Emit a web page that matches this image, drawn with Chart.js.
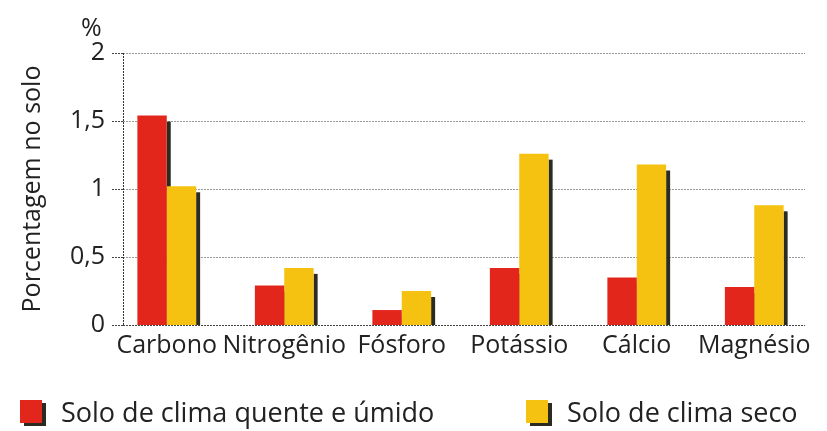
<!DOCTYPE html>
<html lang="pt-BR">
<head>
<meta charset="utf-8">
<title>Porcentagem no solo</title>
<script src="https://cdn.jsdelivr.net/npm/chart.js@4.4.1/dist/chart.umd.min.js"></script>
<style>
  html, body { margin: 0; padding: 0; background: #fff; }
  #wrap { position: relative; width: 827px; height: 431px; font-family: "Open Sans", sans-serif; color: #222; }
  #chart { position: absolute; left: 0; top: 0; }
  .unit { position: absolute; left: 81px; top: 9px; font-size: 25px; }
  .legend { position: absolute; top: 392px; height: 38px; display: flex; align-items: center; font-size: 27px; }
  .legend .box { width: 22px; height: 23px; margin-right: 19px; box-shadow: 4px 3px 0 #2b2b22; }
</style>
</head>
<body>
<div id="wrap">
  <canvas id="chart" width="827" height="431"></canvas>
  <div class="unit">%</div>
  <div class="legend" style="left:20px;"><span class="box" style="background:#e2261c;"></span>Solo de clima quente e úmido</div>
  <div class="legend" style="left:526px;"><span class="box" style="background:#f6c211;"></span>Solo de clima seco</div>
</div>
<script>
// ── Data ─────────────────────────────────────────────────────
const nutrientes = ['Carbono', 'Nitrogênio', 'Fósforo', 'Potássio', 'Cálcio', 'Magnésio'];
const quenteUmido = [1.54, 0.29, 0.11, 0.42, 0.35, 0.28];
const climaSeco   = [1.02, 0.42, 0.25, 1.26, 1.18, 0.88];
const yTicks      = [0, 0.5, 1, 1.5, 2];

const AXIS_X = 123;   // where the vertical axis line sits
const GRID_END = 805;

// ── Axis, grid and bar shadows ───────────────────────────────
const axisAndShadows = {
  id: 'axisAndShadows',
  beforeDatasetsDraw(chart) {
    const ctx = chart.ctx;
    const y = chart.scales.y;
    const top = y.getPixelForValue(2);
    const zero = y.getPixelForValue(0);
    ctx.save();

    // dotted grid lines
    ctx.setLineDash([2, 1]);
    ctx.lineWidth = 1;
    yTicks.forEach(v => {
      const py = Math.round(y.getPixelForValue(v)) + 0.5;
      ctx.strokeStyle = v === 0 ? '#444' : '#9a9a9a';
      ctx.beginPath();
      ctx.moveTo(AXIS_X, py);
      ctx.lineTo(GRID_END, py);
      ctx.stroke();
      // tick mark
      ctx.strokeStyle = '#444';
      ctx.beginPath();
      ctx.moveTo(112, py);
      ctx.lineTo(AXIS_X, py);
      ctx.stroke();
    });

    // vertical axis
    ctx.strokeStyle = '#333';
    ctx.beginPath();
    ctx.moveTo(AXIS_X + 0.5, top);
    ctx.lineTo(AXIS_X + 0.5, zero);
    ctx.stroke();
    ctx.setLineDash([]);

    // dark strip on the right of every bar
    ctx.fillStyle = '#2b2b22';
    chart.getSortedVisibleDatasetMetas().forEach(meta => {
      meta.data.forEach(bar => {
        const right = bar.x + bar.width / 2;
        const sy = bar.y + 6;
        ctx.fillRect(right, sy, 4, bar.base - sy);
      });
    });
    ctx.restore();
  }
};

// ── Chart ────────────────────────────────────────────────────
new Chart(document.getElementById('chart'), {
  type: 'bar',
  data: {
    labels: nutrientes,
    datasets: [
      { label: 'Solo de clima quente e úmido', data: quenteUmido, backgroundColor: '#e2261c' },
      { label: 'Solo de clima seco', data: climaSeco, backgroundColor: '#f6c211' }
    ]
  },
  options: {
    responsive: false,
    animation: false,
    events: [],
    layout: { padding: { top: 53, right: 14, bottom: 60, left: 0 } },
    datasets: { bar: { categoryPercentage: 0.5, barPercentage: 1, borderWidth: 0 } },
    plugins: { legend: { display: false }, tooltip: { enabled: false } },
    scales: {
      x: {
        grid: { display: false, drawTicks: false },
        border: { display: false },
        ticks: { color: '#222', padding: 6, font: { family: 'Open Sans', size: 25 }, maxRotation: 0, autoSkip: false },
        afterFit(scale) { scale.height = 46; }
      },
      y: {
        min: 0,
        max: 2,
        afterBuildTicks(scale) { scale.ticks = yTicks.map(v => ({ value: v })); },
        grid: { display: false, drawTicks: false },
        border: { display: false },
        ticks: {
          color: '#222',
          padding: 3,
          font: { family: 'Open Sans', size: 25 },
          callback: v => String(v).replace('.', ',')
        },
        title: {
          display: true,
          text: 'Porcentagem no solo',
          color: '#222',
          padding: { top: 18, bottom: 0 },
          font: { family: 'Open Sans', size: 25 }
        },
        afterFit(scale) { scale.width = 108; }
      }
    }
  },
  plugins: [axisAndShadows]
});
</script>
</body>
</html>
